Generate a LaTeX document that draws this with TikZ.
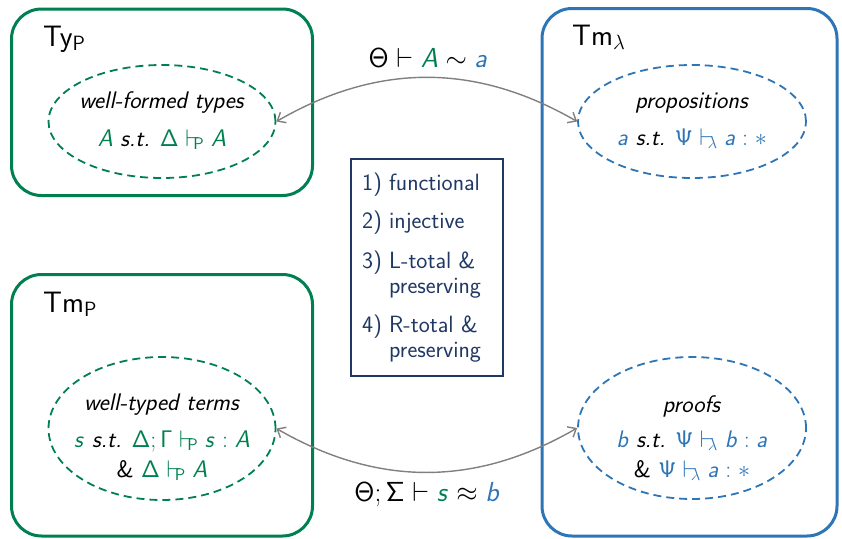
\RequirePackage{fix-cm}
\documentclass[tikz,border=0pt]{standalone}
\usepackage{amsmath}
\usetikzlibrary{shapes.geometric,arrows.meta}
\renewcommand{\familydefault}{\sfdefault}
\definecolor{tgreen}{RGB}{0,128,80}
\definecolor{tblue}{RGB}{46,117,182}
\definecolor{tnavy}{RGB}{32,56,100}
\definecolor{tgray}{RGB}{128,128,128}
\DeclareMathAlphabet{\mathsfit}{OT1}{cmss}{m}{sl}
\newcommand{\vdP}{\mathrel{\vdash_{\mkern-7mu\mathsf{P}}}}
\newcommand{\vdL}{\mathrel{\vdash_{\mkern-7mu\lambda}}}
\newcommand{\stx}{\textit{s.t.}}
\begin{document}
\begin{tikzpicture}[x=1pt,y=-1pt,font=\sffamily,
  outerbox/.style={draw, line width=3pt, rounded corners=30pt, inner sep=0pt},
  dashell/.style={ellipse, draw, dash pattern=on 8pt off 5pt, line width=1.8pt, inner sep=0pt},
  bodytxt/.style={anchor=base, inner sep=0pt, font=\sffamily\fontsize{24}{28}\selectfont},
  titletxt/.style={anchor=base west, inner sep=0pt, font=\sffamily\fontsize{29.5}{34}\selectfont},
  lbl/.style={anchor=base, inner sep=0pt, font=\sffamily\fontsize{27.5}{32}\selectfont},
  rel/.style={draw=tgray, line width=1.4pt, {Straight Barb[length=7pt,width=12pt]}-{Straight Barb[length=7pt,width=12pt]}}]
\useasboundingbox (0,0) rectangle (842,538);
% outer boxes
\node[outerbox, draw=tgreen, minimum width=301pt, minimum height=186.5pt] (typ) at (162,102.25) {};
\node[outerbox, draw=tgreen, minimum width=301pt, minimum height=261.5pt] (tmp) at (162,405.25) {};
\node[outerbox, draw=tblue, minimum width=295pt, minimum height=527.5pt] (tml) at (689.5,272.25) {};
% titles
\node[titletxt] (typlab) at (43,46) {Ty$_{\mathsf{P}}$};
\node[titletxt] (tmplab) at (43,312) {Tm$_{\mathsf{P}}$};
\node[titletxt] (tmllab) at (572,45) {Tm$_{\lambda}$};
% ellipses
\node[dashell, draw=tgreen, minimum width=227pt, minimum height=113pt] (wft) at (162,121.5) {};
\node[dashell, draw=tblue, minimum width=228pt, minimum height=113pt] (prop) at (692,121.5) {};
\node[dashell, draw=tgreen, minimum width=227pt, minimum height=143pt] (wtt) at (162,428.5) {};
\node[dashell, draw=tblue, minimum width=228pt, minimum height=142pt] (prf) at (692,428) {};
% ellipse texts
\node[bodytxt] (wft1) at (162,108) {\textit{well-formed types}};
\node[bodytxt] (wft2) at (162,146) {\textcolor{tgreen}{$\mathsfit{A}$} \stx{} \textcolor{tgreen}{$\mathsf{\Delta}\vdP\mathsfit{A}$}};
\node[bodytxt] (prop1) at (692,108) {\textit{propositions}};
\node[bodytxt] (prop2) at (692,145) {\textcolor{tblue}{$\mathsfit{a}$} \stx{} \textcolor{tblue}{$\mathsf{\Psi}\vdL\mathsfit{a}:\ast$}};
\node[bodytxt] (wtt1) at (162,410) {\textit{well-typed terms}};
\node[bodytxt] (wtt2) at (162,447) {\textcolor{tgreen}{$\mathsfit{s}$} \stx{} \textcolor{tgreen}{$\mathsf{\Delta};\mathsf{\Gamma}\vdP\mathsfit{s}:\mathsfit{A}$}};
\node[bodytxt] (wtt3) at (162,477) {\& \textcolor{tgreen}{$\mathsf{\Delta}\vdP\mathsfit{A}$}};
\node[bodytxt] (prf1) at (692,412) {\textit{proofs}};
\node[bodytxt] (prf2) at (692,447) {\textcolor{tblue}{$\mathsfit{b}$} \stx{} \textcolor{tblue}{$\mathsf{\Psi}\vdL\mathsfit{b}:\mathsfit{a}$}};
\node[bodytxt] (prf3) at (692,477) {\& \textcolor{tblue}{$\mathsf{\Psi}\vdL\mathsfit{a}:\ast$}};
% connectors
\draw[rel] (wft.east) to[bend left=30] (prop.west);
\draw[rel] (wtt.east) to[bend right=30] (prf.west);
\node[lbl] (toplbl) at (428,67) {$\mathsf{\Theta}\vdash\textcolor{tgreen}{\mathsfit{A}}\sim\textcolor{tblue}{\mathsfit{a}}$};
\node[lbl] (botlbl) at (427,501) {$\mathsf{\Theta};\mathsf{\Sigma}\vdash\textcolor{tgreen}{\mathsfit{s}}\approx\textcolor{tblue}{\mathsfit{b}}$};
% property box
\node[draw=tnavy, line width=1.8pt, minimum width=152pt, minimum height=217pt, inner sep=0pt] (props) at (427,267.5) {};
\node[anchor=base west, inner sep=0pt, text=tnavy, font=\sffamily\fontsize{23.5}{25}\selectfont] (proplist) at (362,190)
  {\begin{tabular}[t]{@{}p{27pt}@{}l@{}}
  1) & functional\\[13pt]
  2) & injective\\[15pt]
  3) & L-total \&\\
     & preserving\\[14pt]
  4) & R-total \&\\
     & preserving
  \end{tabular}};
\end{tikzpicture}
\end{document}
